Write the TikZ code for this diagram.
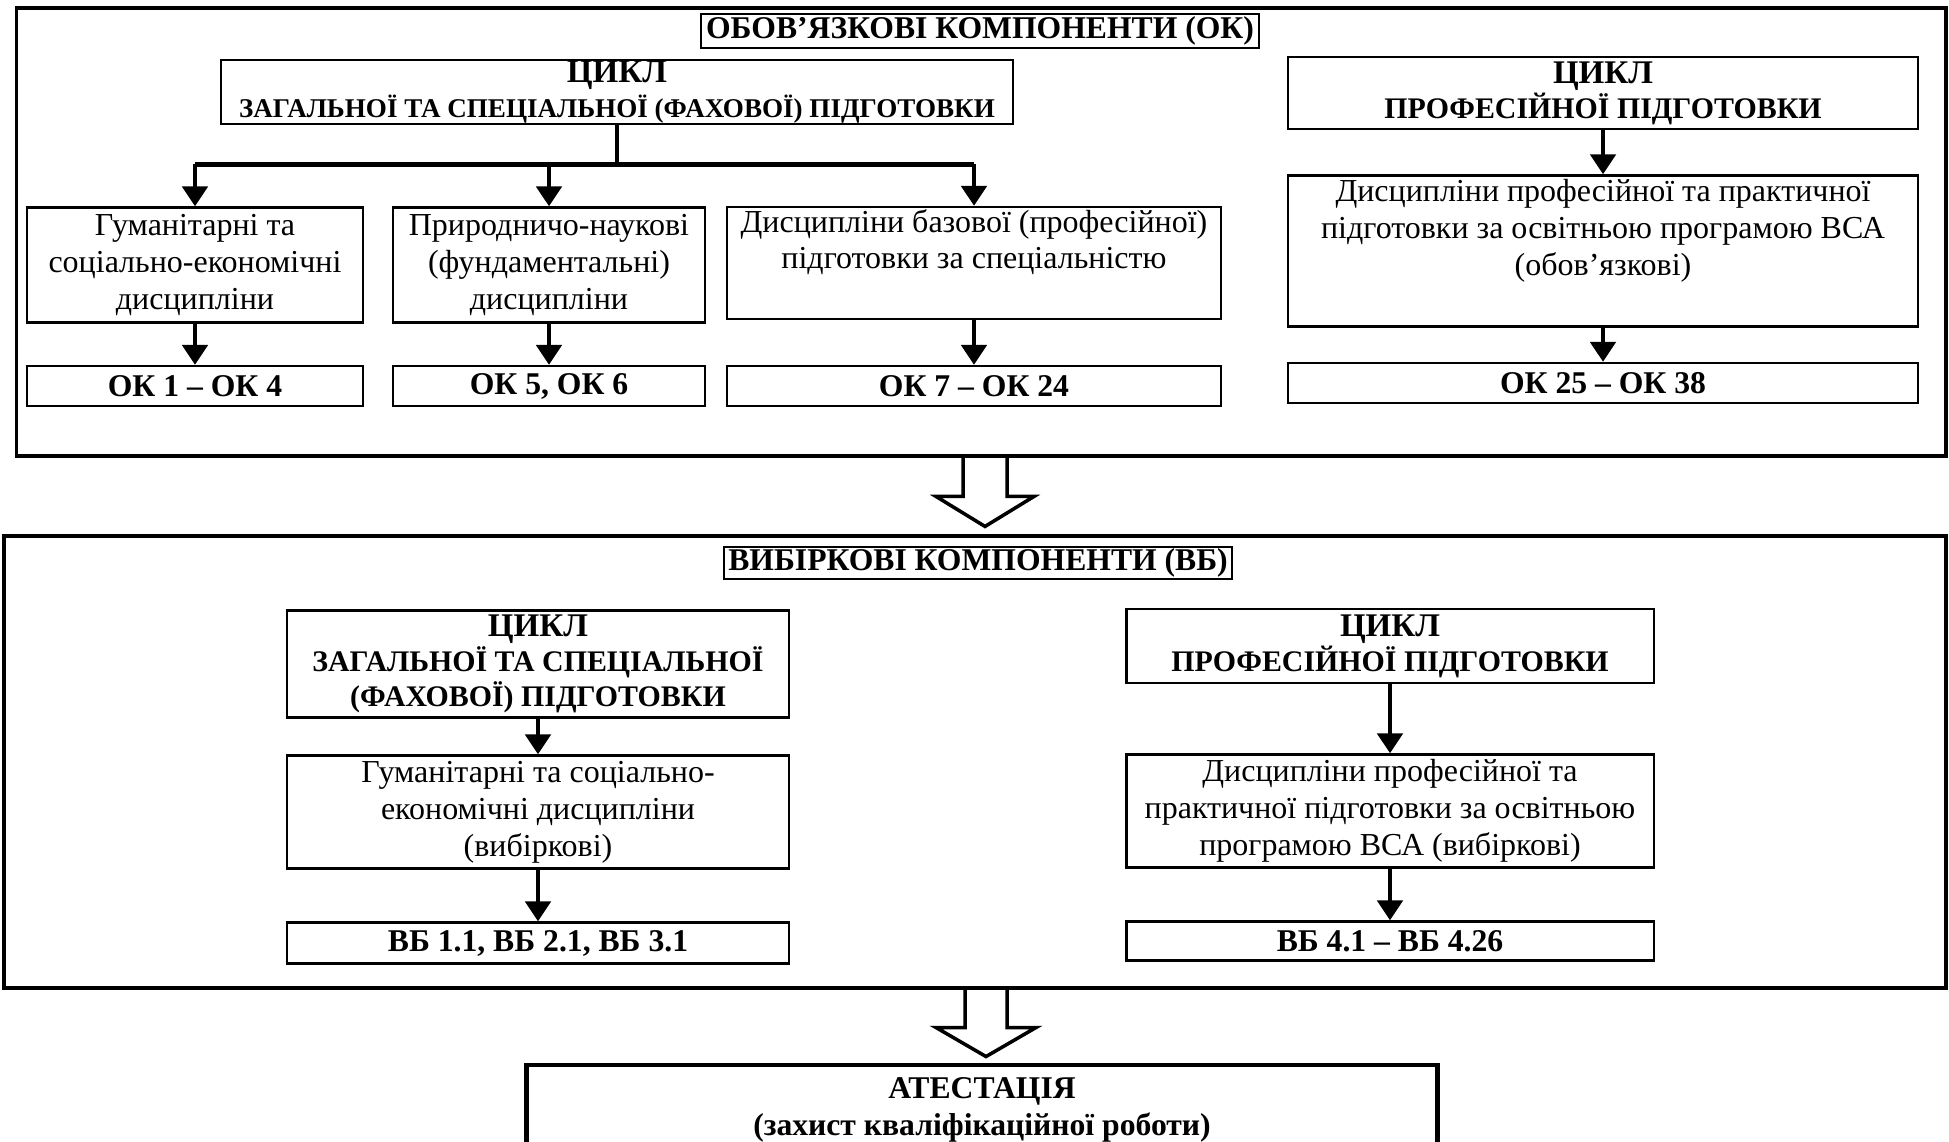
\documentclass[tikz,border=0pt]{standalone}
\usepackage{fontspec}
\setmainfont{Liberation Serif}
\usepackage{tikz}
\usetikzlibrary{arrows.meta,positioning,calc}

\newcommand{\cyclehead}{{\fontsize{9.4}{10}\selectfont ЦИКЛ}}

\tikzset{
  outer/.style={draw, line width=1.1pt, inner sep=0pt},
  tbox/.style={draw, line width=0.5pt, inner sep=0pt,
    font=\bfseries\fontsize{9}{10}\selectfont},
  box/.style={draw, line width=0.65pt, align=center, inner sep=0pt,
    font=\fontsize{9.1}{10.5}\selectfont},
  cyc/.style={box, font=\bfseries\fontsize{8.5}{9.9}\selectfont},
  code/.style={box, font=\bfseries\fontsize{9}{10}\selectfont},
  arr/.style={-{Triangle[length=2mm,width=2.5mm]}, line width=1.4pt},
  hollow/.style={line width=1pt, line join=miter}
}

\begin{document}
\begin{tikzpicture}[x=0.01cm, y=-0.01cm]
  \useasboundingbox (0,0) rectangle (1949,1141);
  \clip (0,0) rectangle (1949,1141);
  % Obligatory components
  \node[outer, minimum width=19.28cm, minimum height=4.48cm] (ok) at (981,232) {};
  \node[tbox, minimum width=5.57cm, minimum height=0.34cm] (okt) at (980,31)
    {ОБОВ’ЯЗКОВІ КОМПОНЕНТИ (ОК)};
  \node[cyc, font=\bfseries\fontsize{7.7}{10}\selectfont, minimum width=7.92cm,
    minimum height=0.64cm] (cyc1) at (617,92)
    {\cyclehead\\ ЗАГАЛЬНОЇ ТА СПЕЦІАЛЬНОЇ (ФАХОВОЇ) ПІДГОТОВКИ};
  \node[cyc, minimum width=6.29cm, minimum height=0.72cm] (cyc2) at (1603,93)
    {\cyclehead\\ ПРОФЕСІЙНОЇ ПІДГОТОВКИ};
  \node[box, minimum width=3.36cm, minimum height=1.15cm] (hum) at (195,265)
    {Гуманітарні та\\ соціально-економічні\\ дисципліни};
  \node[box, minimum width=3.12cm, minimum height=1.15cm] (nat) at (549,265)
    {Природничо-наукові\\ (фундаментальні)\\ дисципліни};
  \node[box, minimum width=4.94cm, minimum height=1.12cm] (bas) at (974,263)
    {Дисципліни базової (професійної)\\ підготовки за спеціальністю\\ \strut};
  \node[box, minimum width=6.29cm, minimum height=1.51cm] (prof) at (1603,251)
    {Дисципліни професійної та практичної\\ підготовки за освітньою програмою ВСА\\
     (обов’язкові)\\ \strut};
  \node[code, minimum width=3.36cm, minimum height=0.40cm] (ok1) at (195,386) {ОК 1 – ОК 4};
  \node[code, minimum width=3.12cm, minimum height=0.40cm] (ok2) at (549,386) {ОК 5, ОК 6};
  \node[code, minimum width=4.94cm, minimum height=0.40cm] (ok3) at (974,386) {ОК 7 – ОК 24};
  \node[code, minimum width=6.29cm, minimum height=0.40cm] (ok4) at (1603,383) {ОК 25 – ОК 38};
  % Branching
  \draw[line width=1.4pt] (cyc1.south) -- ++(0,39) coordinate (br);
  \draw[line width=1.4pt] (br -| hum.north) -- (br -| bas.north);
  \draw[arr] (br -| hum.north) -- (hum.north);
  \draw[arr] (br -| nat.north) -- (nat.north);
  \draw[arr] (br -| bas.north) -- (bas.north);
  \draw[arr] (hum) -- (ok1);
  \draw[arr] (nat) -- (ok2);
  \draw[arr] (bas) -- (ok3);
  \draw[arr] (cyc2) -- (prof);
  \draw[arr] (prof) -- (ok4);

  % Elective components
  \node[outer, minimum width=19.41cm, minimum height=4.51cm] (vb) at (975,762) {};
  \node[tbox, minimum width=5.07cm, minimum height=0.32cm] (vbt) at (978,563)
    {ВИБІРКОВІ КОМПОНЕНТИ (ВБ)};
  \node[cyc, minimum width=5.02cm, minimum height=1.07cm] (cyc3) at (538,664)
    {\cyclehead\\ ЗАГАЛЬНОЇ ТА СПЕЦІАЛЬНОЇ\\ (ФАХОВОЇ) ПІДГОТОВКИ};
  \node[box, minimum width=5.02cm, minimum height=1.13cm] (hum2) at (538,812)
    {Гуманітарні та соціально-\\ економічні дисципліни\\ (вибіркові)};
  \node[code, minimum width=5.02cm, minimum height=0.41cm] (vb1) at (538,943)
    {ВБ 1.1, ВБ 2.1, ВБ 3.1};
  \node[cyc, minimum width=5.27cm, minimum height=0.74cm] (cyc4) at (1390,646)
    {\cyclehead\\ ПРОФЕСІЙНОЇ ПІДГОТОВКИ};
  \node[box, minimum width=5.27cm, minimum height=1.13cm] (prof2) at (1390,811)
    {Дисципліни професійної та\\ практичної підготовки за освітньою\\ програмою ВСА (вибіркові)};
  \node[code, minimum width=5.27cm, minimum height=0.39cm] (vb2) at (1390,941)
    {ВБ 4.1 – ВБ 4.26};
  \draw[arr] (cyc3) -- (hum2);
  \draw[arr] (hum2) -- (vb1);
  \draw[arr] (cyc4) -- (prof2);
  \draw[arr] (prof2) -- (vb2);

  % Attestation
  \node[outer, line width=1.4pt, minimum width=9.11cm, minimum height=0.90cm,
    align=center, font=\fontsize{9}{10.6}\selectfont] (att) at (982,1110)
    {\textbf{АТЕСТАЦІЯ}\\ \textbf{(захист кваліфікаційної роботи)}};

  % Hollow arrows
  \coordinate (h1) at ($(ok.south)+(4,0)$);
  \coordinate (t1) at ($(h1 |- vb.north)+(0,-8)$);
  \draw[hollow] ($(h1)+(-22,0)$) -- ($(t1)+(-22,-30)$) -- ($(t1)+(-49,-30)$) -- (t1)
    -- ($(t1)+(49,-30)$) -- ($(t1)+(22,-30)$) -- ($(h1)+(22,0)$);
  \coordinate (h2) at ($(vb.south)+(11,0)$);
  \coordinate (t2) at ($(h2 |- att.north)+(0,-6)$);
  \draw[hollow] ($(h2)+(-21,0)$) -- ($(t2)+(-21,-29)$) -- ($(t2)+(-50,-29)$) -- (t2)
    -- ($(t2)+(50,-29)$) -- ($(t2)+(21,-29)$) -- ($(h2)+(21,0)$);
\end{tikzpicture}
\end{document}
